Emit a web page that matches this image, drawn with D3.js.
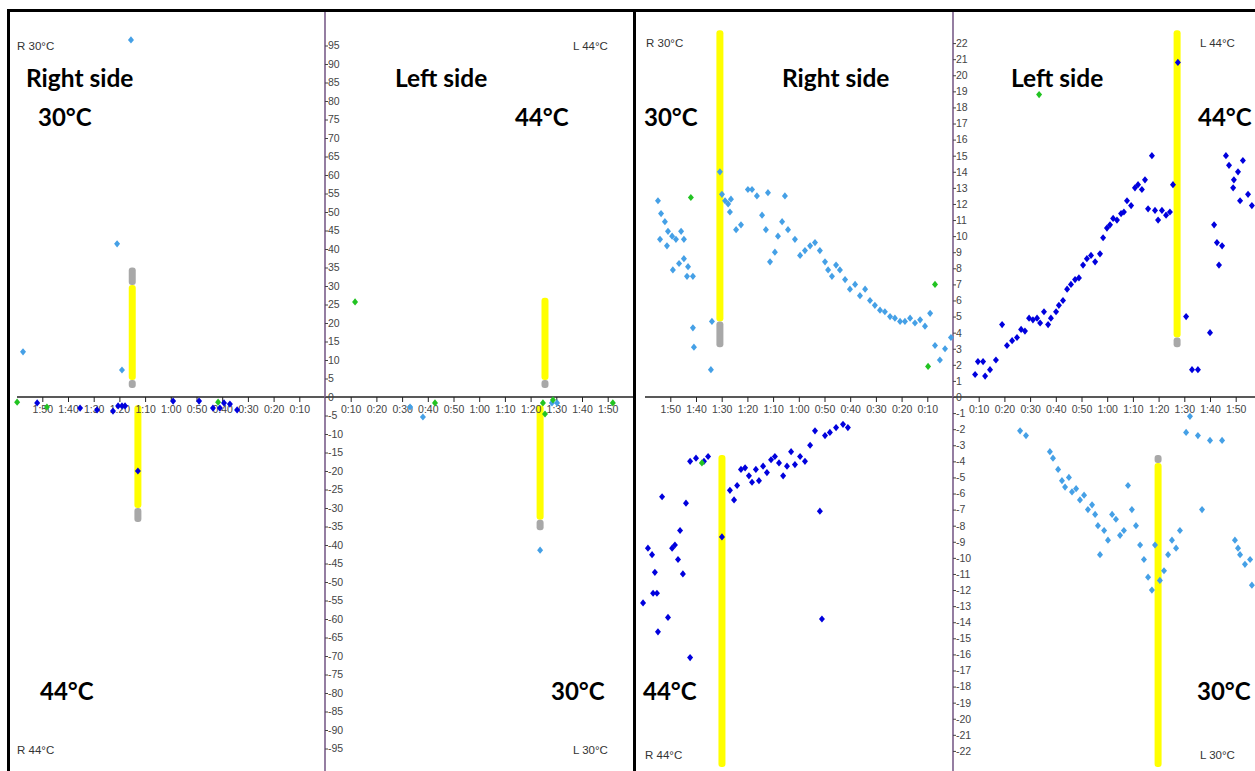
<!DOCTYPE html>
<html><head><meta charset="utf-8">
<script src="https://cdn.jsdelivr.net/npm/d3@7"></script>
<style>body{margin:0;background:#fff}svg{display:block}</style>
</head><body>
<svg id="c" width="1255" height="771"></svg>
<script>
// ---------- DATA (time in minutes, value) ----------
// Panel A (left image, scale ±100)
const A_right30 = [[75.5,96.5],[80.9,41.4],[117.5,12.2],[79,7.3]];
const A_right44 = [[112,-1.6],[95.3,-3],[88.7,-3.5],[82.5,-3.8],[80.5,-2.4],[79,-2.4],[77.8,-2.4],[59.1,-1.1],[49,-1.1],[43.6,-3],[40.9,-3],[39.3,-1.6],[37,-1.9],[34.2,-3.5],[72.8,-20]];
const A_rightMarks = [[119.8,-1.4],[108.2,-2.7],[41.6,-1.4]];
const A_left30 = [[33.1,-2.7],[38.1,-5.4],[88.3,-1.6],[90.3,-1.6],[83.7,-41.4]];
const A_left44 = [];
const A_leftMarks = [[11.7,25.7],[42.8,-1.6],[84.8,-1.6],[85.6,-4.6],[88.7,-0.8],[112,-1.6]];
const A_rightYellow = [[75,4.6,30.3],[72.8,-2.2,-30]];
const A_rightGray = [[75,30.3,35],[75,2.4,4.6],[72.8,-30,-33.8]];
const A_leftYellow = [[85.6,4.6,26.8],[83.7,-2.2,-33.2]];
const A_leftGray = [[85.6,2.4,4.6],[83.7,-33.2,-36]];

// Panel B (right image, scale ±23)
const B_right30 = [[114.8,12.2],[113.6,11.4],[112.1,10.9],[110.9,10.3],[114,9.8],[111.3,9.4],[109.3,10],[107.8,9.8],[105.8,10.3],[104.7,9.8],[109,7.9],[106.6,8.3],[104.7,8.6],[103.1,8.1],[103.5,7.5],[101.2,7.5],[101.2,4.3],[100.8,3.1],[94.2,1.7],[93.8,4.7],[90.7,14],[89.9,12.6],[88.7,12.2],[87.5,12],[86.4,12.3],[86.8,11.5],[84.4,10.4],[82.5,10.7],[79.8,12.9],[78.2,12.9],[76.3,12.5],[74.3,11.3],[72.8,10.4],[71.2,8.4],[72,12.7],[65.4,12.5],[68.1,10],[69.3,9],[66.5,10.9],[64.2,10.4],[61.5,9.8],[59.5,8.8],[57.6,9.1],[55.6,9.4],[53.7,9.6],[51.8,9.1],[49.8,8.4],[48.6,7.9],[47.1,7.5],[45.5,8.2],[44,7.9],[42,7.3],[40.1,6.7],[38.1,7],[36.2,6.3],[34.2,6.7],[32.3,6],[30.4,5.7],[28.4,5.4],[26.5,5.3],[24.5,5],[22.6,4.9],[20.6,4.7],[18.7,4.7],[16.7,4.9],[14.8,4.6],[12.8,4.8],[10.9,4.4],[8.9,5.2],[7,3.2],[5.1,2.3],[3.1,3],[0.8,3.7]];
const B_right44 = [[120.6,-12.8],[118.7,-9.4],[117.1,-9.8],[116,-10.9],[115.2,-12.2],[116.7,-12.2],[114.8,-14.6],[113.2,-6.2],[110.9,-13.7],[109.3,-9.4],[108.2,-9.2],[107,-10.1],[106.2,-8.3],[105.1,-11],[103.9,-6.6],[102.3,-4],[100,-3.8],[96.9,-4],[95.3,-3.7],[89.9,-8.7],[86.8,-5.8],[85.2,-6.4],[84,-5.5],[82.5,-4.5],[80.9,-4.4],[79.4,-4.9],[78.2,-5.3],[76.7,-4.5],[75.5,-5.2],[73.9,-4.3],[72.4,-4.7],[70.8,-3.9],[69.3,-3.7],[67.7,-4.1],[66.1,-4.9],[64.6,-4.3],[63,-3.4],[61.5,-4.2],[59.5,-3.7],[57.6,-4],[55.6,-3],[53.7,-2.1],[51.8,-7.1],[49.8,-2.4],[47.9,-2.2],[45.5,-1.9],[42.8,-1.7],[40.9,-1.9],[102.3,-16.2],[51,-13.8]];
const B_rightMarks = [[102,12.4],[7,7],[9.7,1.9],[97.7,-4.1]];
const B_left44 = [[8.6,1.4],[9.7,2.2],[11.7,2.2],[12.5,1.3],[14.4,1.7],[16.7,2.3],[19.1,4.5],[21,3.2],[23,3.5],[24.9,3.7],[26.5,4.2],[28,4.1],[29.6,4.9],[31.1,4.8],[32.7,4.9],[33.9,4.6],[35.4,5.3],[37,4.5],[38.1,4.9],[40.1,5.3],[41.2,5.7],[42.8,6],[44.4,6.7],[45.9,7],[47.5,7.3],[49,7.4],[50.6,8.2],[52.1,8.6],[53.7,8.8],[55.3,8.4],[57.2,8.9],[58.4,9.9],[59.9,10.5],[61.1,10.7],[62.3,11.1],[63.8,11],[65.4,11.4],[66.5,11.5],[67.7,12.2],[69.3,11.9],[70.8,13],[72,13.2],[73.5,12.9],[74.7,13.5],[75.9,11.7],[77.4,15],[78.6,11.6],[79.8,11],[81.3,11.6],[82.9,11.3],[84.4,11.5],[85.6,13.2],[87.5,20.8],[90.7,5],[93,1.7],[95.3,1.7],[100,4],[101.6,10.7],[102.7,9.6],[103.5,8.2],[104.7,9.4],[106.2,15],[107.4,14.4],[109.3,13.5],[110.9,14],[112.8,14.7],[114.8,12.6],[116.3,11.9],[111.7,12.2],[109,13]];
const B_left30 = [[26.1,-2.1],[28.4,-2.4],[37.7,-3.4],[38.9,-3.8],[40.9,-4.5],[42.4,-5.2],[43.6,-5.6],[45.1,-5],[46.3,-5.9],[47.9,-5.7],[49.4,-6.4],[51,-6.1],[52.5,-7],[54.1,-6.7],[55.3,-7.3],[56.4,-8],[57.2,-9.8],[58.8,-8.3],[60.3,-8.9],[61.9,-7.3],[63.4,-7.6],[65,-8.6],[66.5,-8.3],[68.1,-5.5],[69.6,-7],[71.2,-8],[72.8,-9.2],[74.3,-10.1],[75.9,-11.2],[77.4,-12],[78.6,-9.2],[80.5,-11.4],[82.1,-10.8],[83.7,-9.8],[85.2,-8.9],[86.8,-9.4],[88.3,-8.3],[90.7,-2.2],[92.2,-1.2],[95.3,-2.4],[96.9,-7],[100,-2.7],[104.7,-2.7],[109.7,-8.9],[111.7,-9.8],[113.6,-10.4],[115.6,-10.1],[116.3,-11.7],[110.9,-9.4]];
const B_leftMarks = [[33.5,18.8]];
const B_rightYellow = [[90.7,4.7,22.8],[89.9,-3.6,-23]];
const B_rightGray = [[90.7,3.1,4.7]];
const B_leftYellow = [[87.2,3.7,22.8],[79.8,-4.1,-23]];
const B_leftGray = [[87.2,3.1,3.7],[79.8,-3.6,-4.1]];

const xTicks = [10,20,30,40,50,60,70,80,90,100,110];
const A_yTicks = d3.range(-95,100,5);
const B_yTicks = d3.range(-22,23,1);

// ---------- DRAWING ----------
const svg = d3.select("#c");
const C_LB = "#45a0e6", C_DB = "#0000dd", C_GR = "#22c322", C_Y = "#ffff00", C_G = "#a8a8a8";
const fmt = m => Math.floor(m/60) + ":" + String(m%60).padStart(2,"0");
const diamond = "M0,-3.6L3,0L0,3.6L-3,0Z";

function drawPanel(o){
  const g = svg.append("g");
  const y = d3.scaleLinear().domain([-o.yMax,o.yMax]).range([767,27]);
  const xR = d3.scaleLinear().domain([0,120]).range([o.cx,o.cx-308.4]);
  const xL = d3.scaleLinear().domain([0,120]).range([o.cx,o.cx+308.4]);
  const y0 = y(0);

  function bars(arr, x, col){
    g.selectAll(null).data(arr).enter().append("rect")
      .attr("x", d=>x(d[0])-3.5).attr("width",7)
      .attr("y", d=>y(Math.max(d[1],d[2]))).attr("height", d=>Math.abs(y(d[1])-y(d[2])))
      .attr("rx",3).attr("fill",col);
  }
  bars(o.rY,xR,C_Y); bars(o.lY,xL,C_Y);
  bars(o.rG,xR,C_G); bars(o.lG,xL,C_G);

  g.append("line").attr("x1",o.x0).attr("x2",o.x1).attr("y1",y0).attr("y2",y0)
    .attr("stroke","#222").attr("stroke-width",1.3);
  [xR,xL].forEach(x=>{
    const ax = g.append("g").attr("transform",`translate(0,${y0})`)
      .call(d3.axisBottom(x).tickValues(xTicks).tickSize(5).tickPadding(4).tickFormat(fmt));
    ax.select(".domain").remove();
    ax.selectAll("line").attr("stroke","#222");
    ax.selectAll("text").attr("fill","#444").style("font","10.5px 'Liberation Sans', Arial, sans-serif");
  });
  g.append("line").attr("x1",o.cx).attr("x2",o.cx).attr("y1",10).attr("y2",771)
    .attr("stroke","#7a5d8a").attr("stroke-width",1.6);
  const ay = g.append("g").attr("transform",`translate(${o.cx},0)`)
    .call(d3.axisRight(y).tickValues(o.yTicks).tickSize(3).tickPadding(0).tickFormat(d=>String(d)));
  ay.select(".domain").remove();
  ay.selectAll("line").attr("stroke","#444");
  ay.selectAll("text").attr("fill","#444").style("font","10.5px 'Liberation Sans', Arial, sans-serif");

  function pts(arr, x, col){
    g.selectAll(null).data(arr).enter().append("path")
      .attr("d",diamond).attr("fill",col)
      .attr("transform", d=>`translate(${x(d[0])},${y(d[1])})`);
  }
  pts(o.r30,xR,C_LB); pts(o.l30,xL,C_LB);
  pts(o.r44,xR,C_DB); pts(o.l44,xL,C_DB);
  pts(o.rM,xR,C_GR); pts(o.lM,xL,C_GR);

  const small = "11.5px 'Liberation Sans', Arial, sans-serif";
  o.texts.forEach(t=>{
    g.append("text").attr("x",t[1]).attr("y",t[2]).text(t[0])
      .attr("fill", t[3] ? "#000" : "#333")
      .style("font", t[3] ? `bold ${t[3]}px Lato, 'Open Sans', sans-serif` : small);
  });
}

drawPanel({cx:325, x0:17, x1:633, yMax:100, yTicks:A_yTicks,
  r30:A_right30, r44:A_right44, rM:A_rightMarks, l30:A_left30, l44:A_left44, lM:A_leftMarks,
  rY:A_rightYellow, rG:A_rightGray, lY:A_leftYellow, lG:A_leftGray,
  texts:[["R 30°C",17,50],["L 44°C",573,50],["R 44°C",17,754],["L 30°C",573,754],
         ["Right side",26,87,24.5],["30°C",38,126,24],["Left side",395,87,24.5],["44°C",515,126,24],
         ["44°C",40,700,24],["30°C",551,700,24]]});

drawPanel({cx:953, x0:645, x1:1255, yMax:23, yTicks:B_yTicks,
  r30:B_right30, r44:B_right44, rM:B_rightMarks, l30:B_left30, l44:B_left44, lM:B_leftMarks,
  rY:B_rightYellow, rG:B_rightGray, lY:B_leftYellow, lG:B_leftGray,
  texts:[["R 30°C",646,47],["L 44°C",1200,47],["R 44°C",645,759],["L 30°C",1200,759],
         ["Right side",782,87,24.5],["30°C",644,126,24],["Left side",1011,87,24.5],["44°C",1198,126,24],
         ["44°C",643,700,24],["30°C",1197,700,24]]});

const fr = svg.append("g").attr("stroke","#000").attr("fill","none");
fr.append("line").attr("x1",7).attr("x2",1255).attr("y1",10.5).attr("y2",10.5).attr("stroke-width",3);
fr.append("line").attr("x1",8.5).attr("x2",8.5).attr("y1",9).attr("y2",771).attr("stroke-width",3);
fr.append("line").attr("x1",634.5).attr("x2",634.5).attr("y1",9).attr("y2",771).attr("stroke-width",3);
</script>
</body></html>
